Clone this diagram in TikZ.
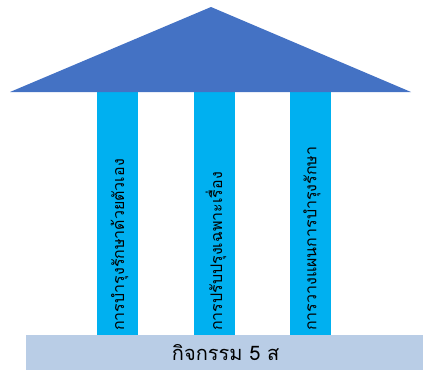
\documentclass[tikz,border=0pt]{standalone}
\usepackage{fontspec}
\usepackage{tikz}
\usetikzlibrary{positioning,calc}
\newfontfamily\thaifont[Script=Thai]{Loma}
\definecolor{roofblue}{RGB}{68, 114, 196}
\definecolor{pillarcyan}{RGB}{0, 176, 240}
\definecolor{baseblue}{RGB}{185, 205, 230}
\tikzset{
  pillar/.style={fill=pillarcyan,draw=none,minimum width=41pt,
                 minimum height=243pt,inner sep=0pt},
  ptext/.style={font=\thaifont\fontsize{16}{18}\selectfont,rotate=90,
                anchor=west,inner sep=0pt},
  basebox/.style={fill=baseblue,draw=none,minimum width=397pt,
                  minimum height=35pt,inner sep=0pt},
}
\begin{document}
\begin{tikzpicture}[x=1pt,y=-1pt]
        \useasboundingbox (0,0) rectangle (423,370);
        % base slab
        \node[basebox,anchor=north west] (base) at (26,335) {};
        \node[font=\thaifont\fontsize{20}{22}\selectfont] (baselbl)
              at ($(base.center)+(1,0)$) {กิจกรรม 5 ส};
        % the three pillars
        \node[pillar,anchor=south] (p1) at (117.5,335) {};
        \node[pillar,anchor=south] (p2) at (214,335) {};
        \node[pillar,anchor=south] (p3) at (310,335) {};
        \node[ptext] (t1) at ($(p1.south)+(2,-4)$) {การบำรุงรักษาด้วยตัวเอง};
        \node[ptext] (t2) at ($(p2.south)+(2,-4)$) {การปรับปรุงเฉพาะเรื่อง};
        \node[ptext] (t3) at ($(p3.south)+(2,-4)$) {การวางแผนการบำรุงรักษา};
        % roof
        \coordinate (apex) at (211,7);
        \coordinate (eaveL) at (10,92);
        \coordinate (eaveR) at (411,92);
        \fill[roofblue] (eaveL) -- (apex) -- (eaveR) -- cycle;
      \end{tikzpicture}
\end{document}
